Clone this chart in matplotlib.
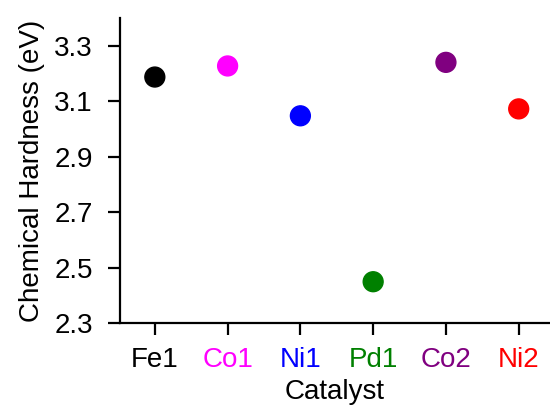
import matplotlib.pyplot as plt

plt.rcParams['font.family'] = ['Liberation Sans', 'DejaVu Sans']

catalizadores = ['Fe1', 'Co1', 'Ni1', 'Pd1', 'Co2', 'Ni2']
dureza = [3.188, 3.228, 3.048, 2.449, 3.241, 3.073]
colores = ['black', 'magenta', 'blue', 'green', 'purple', 'red']
ticks_y = [2.3, 2.5, 2.7, 2.9, 3.1, 3.3]

fig = plt.figure(figsize=(5.5, 4.07), dpi=100)
ax = fig.add_axes([0.218, 0.2064, 0.782, 0.7486])

x = list(range(len(catalizadores)))
ax.scatter(x, dureza, c=colores, s=205, zorder=3)

ax.set_xlim(-0.48, 5.43)
ax.set_ylim(2.3, 3.4)
ax.set_yticks(ticks_y)
ax.set_yticklabels([f'{v:.1f}' for v in ticks_y])
ax.set_xticks(x)
ax.set_xticklabels(catalizadores)
for etiqueta, color in zip(ax.get_xticklabels(), colores):
    etiqueta.set_color(color)

# solo ejes izquierdo e inferior
for lado in ['top', 'right']:
    ax.spines[lado].set_visible(False)
for lado in ['left', 'bottom']:
    ax.spines[lado].set_linewidth(1.6)
ax.tick_params(axis='both', direction='out', length=8.5, width=1.6,
               labelsize=20)
ax.tick_params(axis='y', pad=11)
ax.tick_params(axis='x', pad=9)

ax.set_ylabel('Chemical Hardness (eV)', fontsize=20)
ax.set_xlabel('Catalyst', fontsize=20)
ax.xaxis.set_label_coords(0.5, -0.185)
ax.yaxis.set_label_coords(-0.175, 0.5)

fig.savefig('out.png', dpi=100)
